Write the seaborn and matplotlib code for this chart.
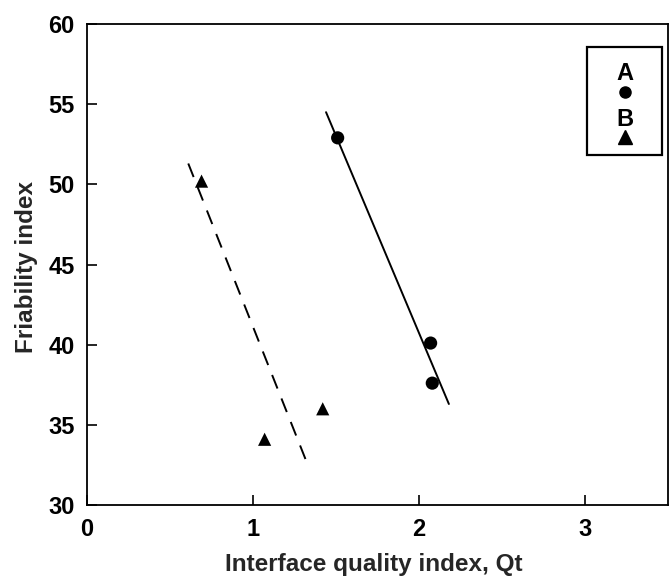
import matplotlib
matplotlib.use("Agg")
import matplotlib.pyplot as plt
import seaborn as sns
import pandas as pd
from matplotlib.offsetbox import AnchoredOffsetbox, DrawingArea
from matplotlib.lines import Line2D
from matplotlib.text import Text

# ---- data ----
a_x = [1.51, 2.07, 2.08]
a_y = [52.9, 40.1, 37.6]
b_x = [0.69, 1.07, 1.42]
b_y = [50.2, 34.1, 36.0]
a_fit_x = [1.44, 2.18]
a_fit_y = [54.5, 36.3]
b_fit_x = [0.61, 1.33]
b_fit_y = [51.3, 32.5]
series_labels = ["A", "B"]
x_ticks = [0, 1, 2, 3]
y_ticks = [30, 35, 40, 45, 50, 55, 60]

sns.set_theme(style="ticks")
plt.rcParams["font.family"] = ["Liberation Sans", "DejaVu Sans"]

fig = plt.figure(figsize=(6.72, 5.78), dpi=100)
ax = fig.add_axes([87/672, 1-505/578, (668-87)/672, (505-24)/578])

pts = pd.DataFrame({
    "x": a_x + b_x,
    "y": a_y + b_y,
    "grp": [series_labels[0]]*len(a_x) + [series_labels[1]]*len(b_x),
})
sns.scatterplot(data=pts, x="x", y="y", style="grp",
                markers={"A": "o", "B": "^"}, color="black",
                s=90, edgecolor="black", linewidth=0, legend=False, ax=ax)
# fit lines
sns.lineplot(x=a_fit_x, y=a_fit_y, color="black", lw=1.4, ax=ax,
             estimator=None, sort=False)
sns.lineplot(x=b_fit_x, y=b_fit_y, color="black", lw=1.4, ax=ax,
             estimator=None, sort=False)
ax.lines[-1].set_linestyle((0, (7.5, 5.5)))

ax.set_xlim(0, 3.5)
ax.set_ylim(30, 60)
ax.set_xticks(x_ticks)
ax.set_yticks(y_ticks)
ax.tick_params(direction="in", length=7, width=1.2, labelsize=17,
               top=False, right=False, colors="black")
ax.tick_params(axis="x", pad=9)
ax.tick_params(axis="y", pad=9)
for lab in ax.get_xticklabels() + ax.get_yticklabels():
    lab.set_fontweight("bold")
for sp in ax.spines.values():
    sp.set_visible(True)
    sp.set_color("black")
    sp.set_linewidth(1.3)

ax.set_xlabel("Interface quality index, Qt", fontsize=17.5, fontweight="bold")
ax.set_ylabel("Friability index", fontsize=17.5, fontweight="bold")
ax.xaxis.set_label_coords(0.494, -0.1)
ax.yaxis.set_label_coords(-0.085, 0.495)

# ---- legend: label above marker, framed box ----
da = DrawingArea(54, 78, 0, 0, clip=False)
label_y = [59, 26]
marker_y = [45.5, 13.5]
for lab, mk, ms, ly, my in zip(series_labels, ["o", "^"], [8.0, 9.5],
                               label_y, marker_y):
    da.add_artist(Text(27, ly, lab, ha="center", va="center", fontsize=17,
                       fontweight="bold", color="black",
                       fontfamily="Liberation Sans"))
    da.add_artist(Line2D([27], [my], marker=mk, color="black", ms=ms,
                         linestyle="none"))
ab = AnchoredOffsetbox(loc="upper right", child=da, pad=0, borderpad=0,
                       frameon=True, bbox_to_anchor=(0.9897, 0.952),
                       bbox_transform=ax.transAxes)
ab.patch.set_edgecolor("black")
ab.patch.set_linewidth(1.6)
ab.patch.set_boxstyle("square", pad=0)
ax.add_artist(ab)

fig.savefig("out.png", dpi=100)
